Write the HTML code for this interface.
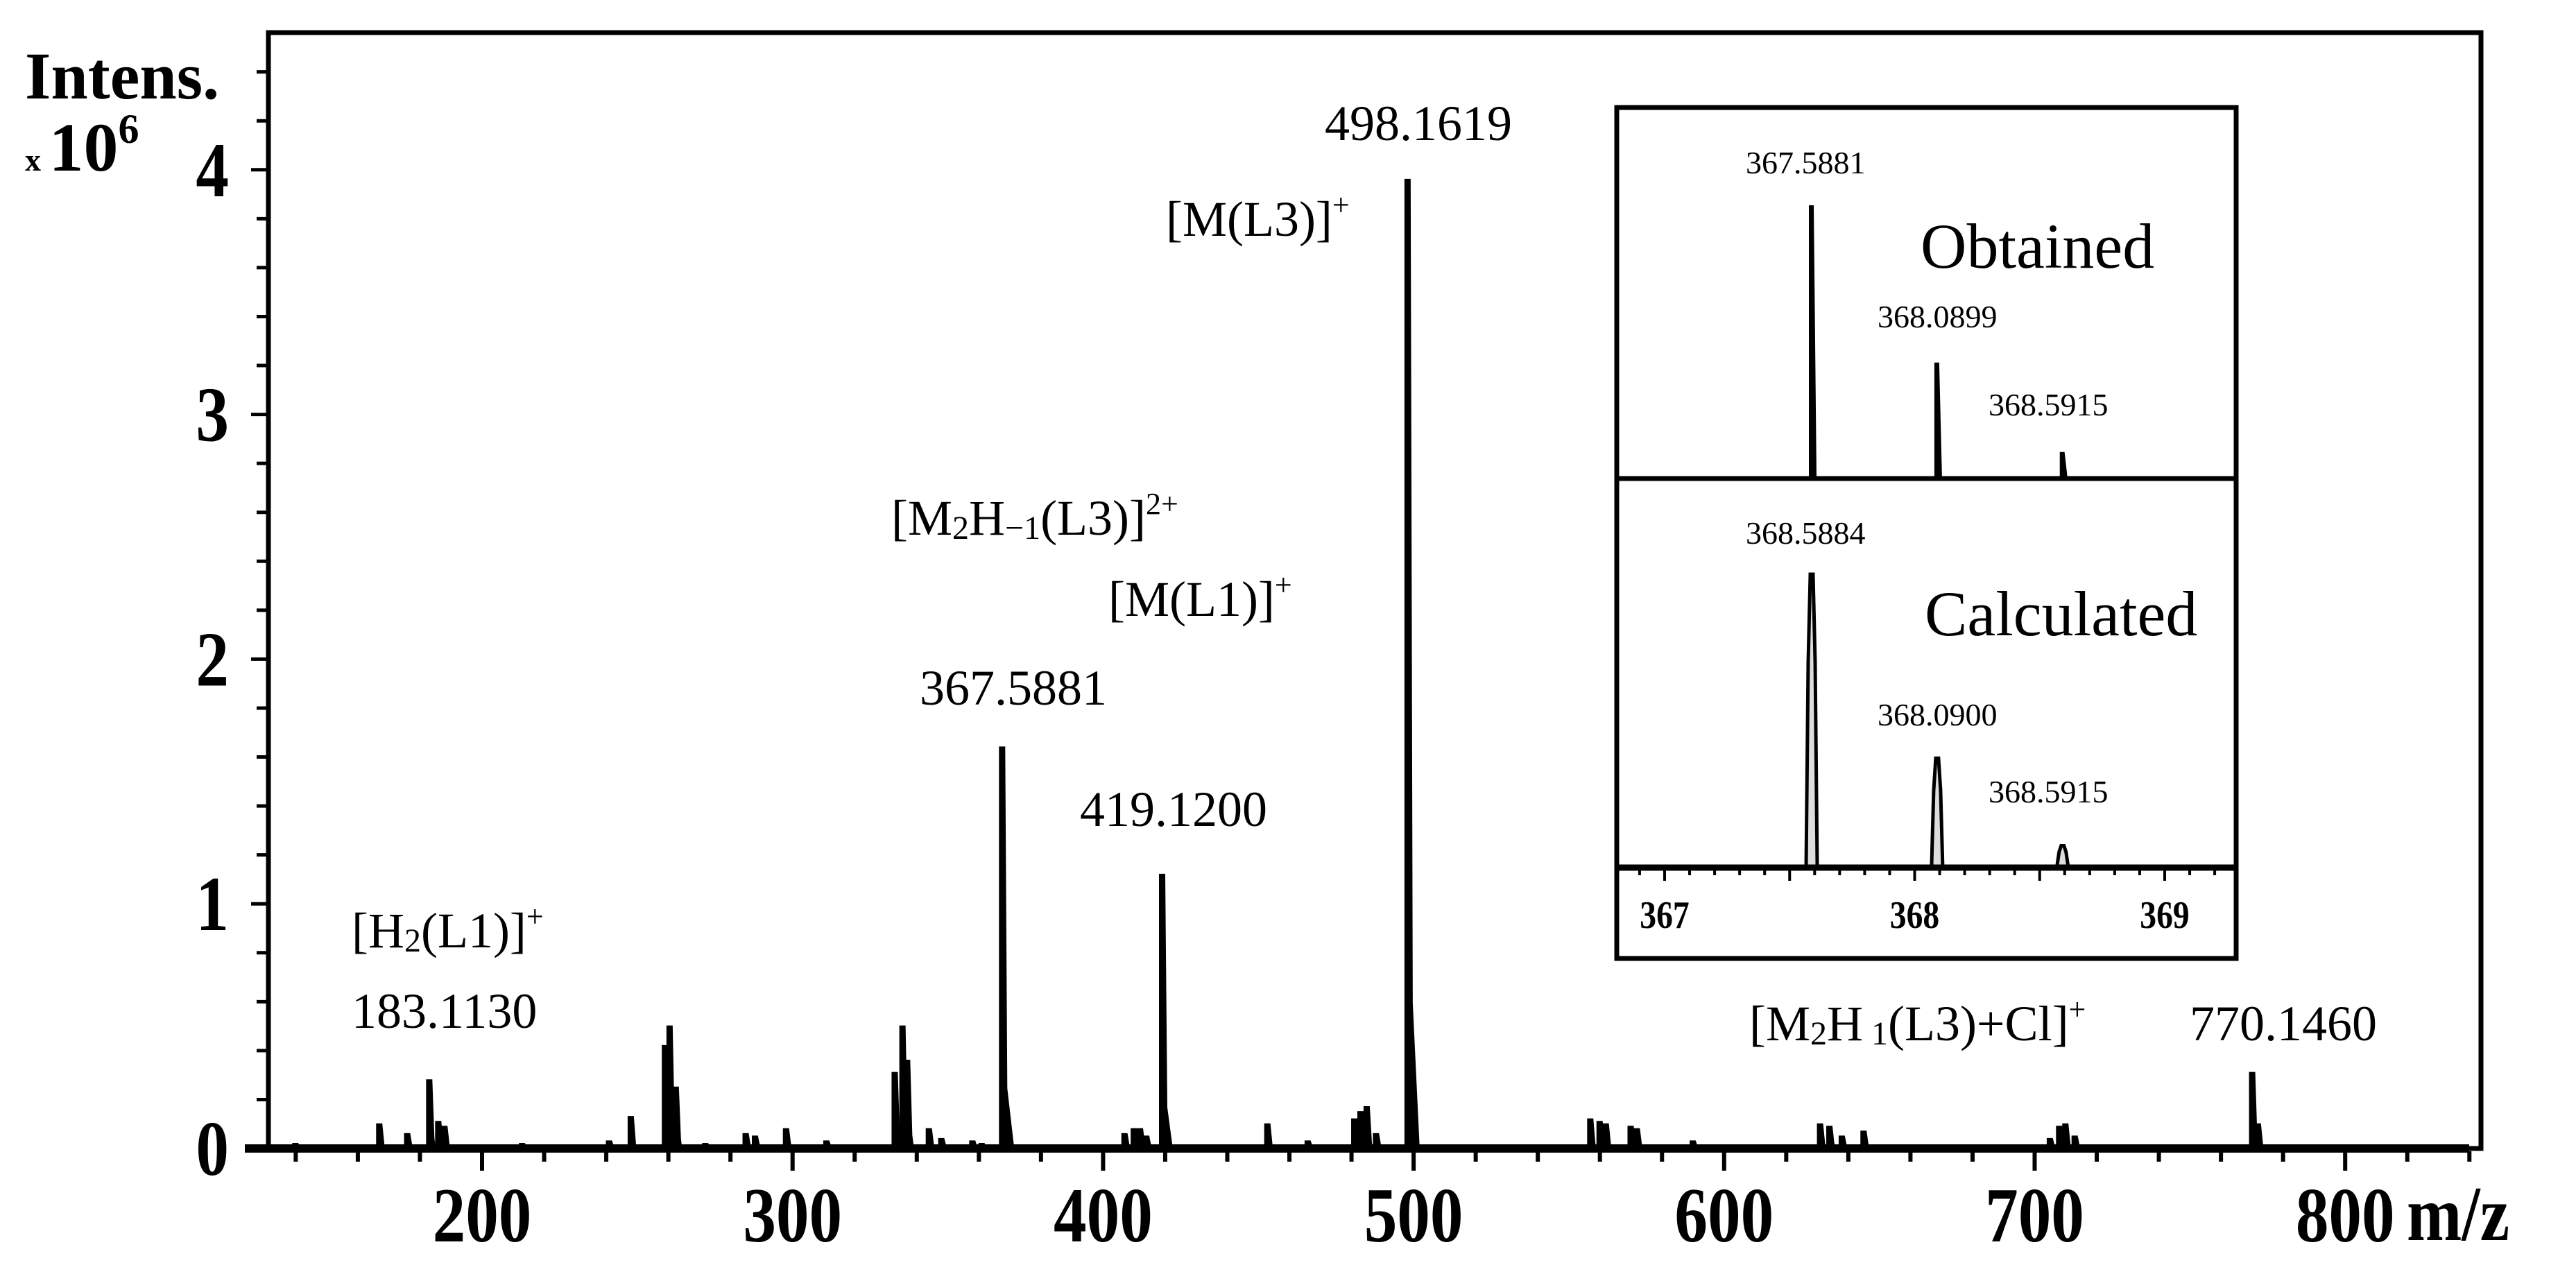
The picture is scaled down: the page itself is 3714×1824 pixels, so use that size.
<!DOCTYPE html>
<html><head><meta charset="utf-8"><style>
html,body{margin:0;padding:0;background:#fff;}
svg{display:block;}
text{font-family:"Liberation Serif",serif;fill:#000;}
.tk{font-weight:bold;font-size:112px;}
.an{font-size:72px;}
.il{font-size:46px;}
</style></head><body>
<svg id="chart" width="3714" height="1824" viewBox="0 0 3714 1824" xmlns="http://www.w3.org/2000/svg">
<g id="axes"></g>
<g id="peaks"></g>
<g id="labels">
<text font-weight="bold" font-size="96" x="36" y="142">Intens.</text>
<text x="36" y="246"><tspan font-size="46" font-weight="bold">x </tspan><tspan font-size="100" font-weight="bold">10</tspan><tspan font-size="60" font-weight="bold" dy="-40">6</tspan></text>
<text class="tk" transform="translate(3470,1788) scale(0.85,1)">m/z</text>
<text class="an" x="1910" y="202">498.1619</text>
<text class="an" x="1681" y="340">[M(L3)]<tspan font-size="44" dy="-30">+</tspan></text>
<text class="an" x="1285" y="771">[M<tspan font-size="48" dy="6">2</tspan><tspan dy="-6">H</tspan><tspan font-size="48" dy="6">−1</tspan><tspan dy="-6">(L3)]</tspan><tspan font-size="44" dy="-30">2+</tspan></text>
<text class="an" x="1598" y="888">[M(L1)]<tspan font-size="44" dy="-30">+</tspan></text>
<text class="an" x="1326" y="1016">367.5881</text>
<text class="an" x="1557" y="1191">419.1200</text>
<text class="an" x="507" y="1366">[H<tspan font-size="48" dy="6">2</tspan><tspan dy="-6">(L1)]</tspan><tspan font-size="44" dy="-30">+</tspan></text>
<text class="an" x="507" y="1482">183.1130</text>
<text class="an" x="2522" y="1500">[M<tspan font-size="48" dy="6">2</tspan><tspan dy="-6">H</tspan><tspan font-size="48" dy="6"> 1</tspan><tspan dy="-6">(L3)+Cl]</tspan><tspan font-size="44" dy="-30">+</tspan></text>
<text class="an" x="3157" y="1500">770.1460</text>
</g>
<g id="inset"></g>
</svg>
<script>
// main spectrum data (m/z, intensity x10^6)
const mz = [140,167,176,183.1,186,188,213,241,248,259,260.5,262.5,272,285,288,298,311,333,335.5,337,344,348,358,361,367.59,407,410,412,414,419.12,453,466,481,483,485,488,498.16,557,560,562,570,572,590,631,634,638,645,705,708,710,713,770.15,772];
const inten = [0.02,0.1,0.06,0.28,0.11,0.09,0.02,0.03,0.13,0.42,0.5,0.25,0.02,0.06,0.05,0.08,0.03,0.31,0.5,0.36,0.08,0.04,0.03,0.02,1.64,0.06,0.08,0.08,0.05,1.12,0.1,0.03,0.12,0.15,0.17,0.06,3.96,0.12,0.11,0.1,0.09,0.08,0.03,0.1,0.09,0.05,0.07,0.04,0.09,0.1,0.05,0.31,0.1];
const xTicks = [200,300,400,500,600,700,800];
const yTicks = [0,1,2,3,4];
// inset data
const insetMz = [367.5881,368.0899,368.5915];
const obtained = [1.0,0.42,0.09];
const calculated = [1.0,0.37,0.07];
const insetTickLabels = [367,368,369];

const NS="http://www.w3.org/2000/svg";
function mk(tag,attrs,parent){const e=document.createElementNS(NS,tag);for(const k in attrs)e.setAttribute(k,attrs[k]);parent.appendChild(e);return e;}
const X=m=>695+(m-200)*4.477;
const Y=v=>1656-v*352.8;
const axes=document.getElementById('axes'), peaks=document.getElementById('peaks'), inset=document.getElementById('inset');

let f=mk('rect',{x:387,y:47,width:3190,height:1609,fill:'none',stroke:'#000','stroke-width':7},axes);


let bl=mk('line',{x1:353,y1:1656,x2:3560,y2:1656,stroke:'#000','stroke-width':12},axes);


for(let m=140;m<=840;m+=20){
  const maj=m%100===0;
  let t=mk('line',{x1:X(m),y1:1660,x2:X(m),y2:maj?1688:1675,stroke:'#000','stroke-width':6},axes);
  
  
}
xTicks.forEach(v=>{
  let t=mk('text',{transform:`translate(${X(v)},1790) scale(0.85,1)`,'text-anchor':'middle','class':'tk'},axes);t.textContent=v;
  
  
});
for(let i=0;i<=22;i++){
  const v=i*0.2, maj=i%5===0;
  let t=mk('line',{x1:maj?362:370,y1:Y(v),x2:387,y2:Y(v),stroke:'#000','stroke-width':5},axes);
  
  
}
yTicks.forEach(v=>{
  let t=mk('text',{transform:`translate(330,${Y(v)+38}) scale(0.85,1)`,'text-anchor':'end','class':'tk'},axes);t.textContent=v;
  
  
});
mz.forEach((m,i)=>{
  const x=X(m), yt=Y(inten[i]), b=1656, h=b-yt;
  const tail=Math.min(16,6+h*0.02);
  const pts=[[x-4,b],[x-4,yt],[x+3,yt],[x+6,b-h*0.15],[x+tail,b]].map(p=>p.join(',')).join(' ');
  let p=mk('polygon',{points:pts,fill:'#000',stroke:'#000','stroke-width':2},peaks);
  
  
});

// inset
const IX=m=>2400+(m-367)*360.5;
const oBase=688, oTop=297, cBase=1249, cTop=828;
let ib=mk('rect',{x:2331,y:155,width:893,height:1227,fill:'#fff',stroke:'#000','stroke-width':7},inset);


let dv=mk('line',{x1:2331,y1:690,x2:3224,y2:690,stroke:'#000','stroke-width':7},inset);


let ia=mk('line',{x1:2331,y1:1251,x2:3224,y2:1251,stroke:'#000','stroke-width':9},inset);


for(let k=0;k<=24;k++){
  const m=366.9+k*0.1, x=IX(m); if(x<2335||x>3220) continue;
  const maj=Math.abs((m*2)-Math.round(m*2))<0.01;
  let t=mk('line',{x1:x,y1:1255,x2:x,y2:maj?1270:1262,stroke:'#000','stroke-width':4},inset);
  
  
}
insetTickLabels.forEach(v=>{
  let t=mk('text',{transform:`translate(${IX(v)},1338) scale(0.85,1)`,'text-anchor':'middle','font-size':56,'font-weight':'bold'},inset);t.textContent=v;
  
  
});
insetMz.forEach((m,i)=>{
  const x=IX(m), yt=oBase-obtained[i]*(oBase-oTop);
  let p=mk('polygon',{points:`${x-3},${oBase} ${x-3},${yt} ${x+2},${yt} ${x+6},${oBase}`,fill:'#000',stroke:'#000','stroke-width':2},inset);
  
  
  const yc=cBase-calculated[i]*(cBase-cTop);
  let q=mk('polygon',{points:`${x-8},${cBase} ${x-5},${yc+ (cBase-yc)*0.3} ${x-2},${yc} ${x+2},${yc} ${x+5},${yc+(cBase-yc)*0.3} ${x+8},${cBase}`,fill:'#ddd',stroke:'#000','stroke-width':5},inset);
  
  
});
const il=[[2517,250,'367.5881'],[2707,472,'368.0899'],[2867,599,'368.5915'],[2517,784,'368.5884'],[2707,1046,'368.0900'],[2867,1157,'368.5915']];
il.forEach(d=>{
  let t=mk('text',{x:d[0],y:d[1],'class':'il'},inset);t.textContent=d[2];
  
  
});
let ob=mk('text',{x:2769,y:386,'font-size':92},inset);ob.textContent='Obtained';


let ca=mk('text',{x:2775,y:916,'font-size':92},inset);ca.textContent='Calculated';


</script>
</body></html>
